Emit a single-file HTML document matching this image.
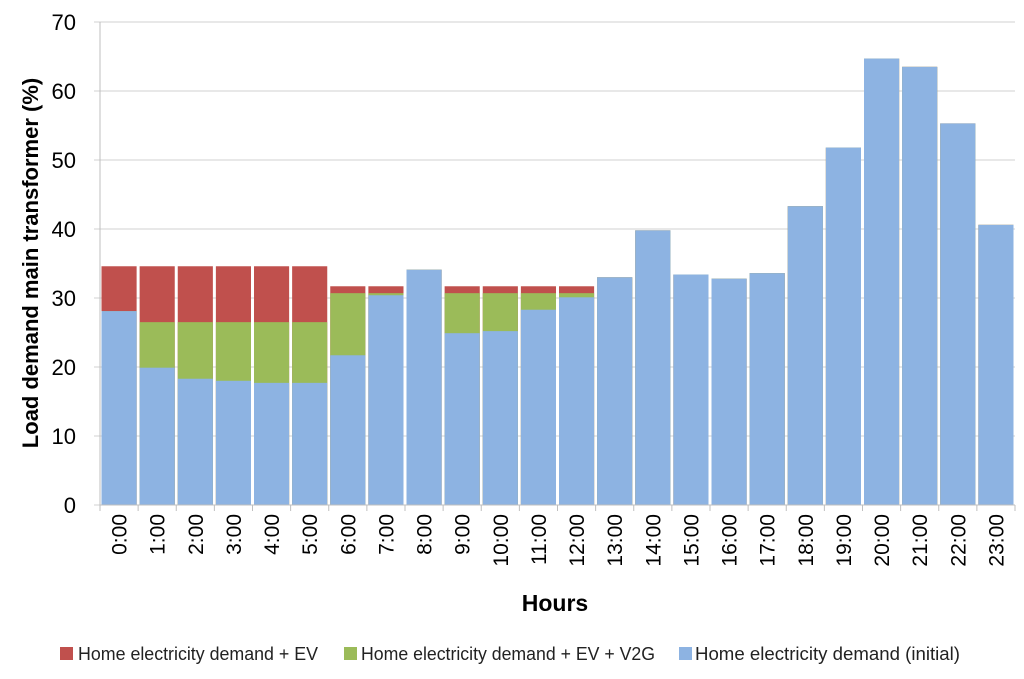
<!DOCTYPE html>
<html><head><meta charset="utf-8"><style>
body{margin:0;background:#fff;font-family:"Liberation Sans",sans-serif}
</style></head><body>
<svg id="c" width="1024" height="674" xmlns="http://www.w3.org/2000/svg"></svg>
<script>
const categories=["0:00","1:00","2:00","3:00","4:00","5:00","6:00","7:00","8:00","9:00","10:00","11:00","12:00","13:00","14:00","15:00","16:00","17:00","18:00","19:00","20:00","21:00","22:00","23:00"];
const blueValues=[28.1,19.9,18.3,18.0,17.7,17.7,21.7,30.4,34.1,24.9,25.2,28.3,30.1,33.0,39.8,33.4,32.8,33.6,43.3,51.8,64.7,63.5,55.3,40.6];
const greenValues=[28.1,26.5,26.5,26.5,26.5,26.5,30.7,30.7,34.1,30.7,30.7,30.7,30.7,33.0,39.8,33.4,32.8,33.6,43.3,51.8,64.7,63.5,55.3,40.6];
const redValues=[34.6,34.6,34.6,34.6,34.6,34.6,31.7,31.7,34.1,31.7,31.7,31.7,31.7,33.0,39.8,33.4,32.8,33.6,43.3,51.8,64.7,63.5,55.3,40.6];
const yTicks=[0,10,20,30,40,50,60,70];
const svg=document.getElementById('c');
const NS="http://www.w3.org/2000/svg";
const X0=100,X1=1015,Y0=505,YMAX=70,PPU=6.9;
const bw=(X1-X0)/categories.length;
const y=v=>Y0-v*PPU;
const x=i=>X0+i*bw;
function mk(t,a,txt){const e=document.createElementNS(NS,t);for(const k in a)e.setAttribute(k,a[k]);if(txt!==undefined)e.textContent=txt;svg.appendChild(e);return e;}
yTicks.forEach(t=>{
 const g=mk('line',{x1:X0-6,x2:X1,y1:y(t),y2:y(t),stroke:'#d0d0d0','stroke-width':1});
 
 
 const l=mk('text',{x:76,y:y(t)+8,'text-anchor':'end','font-size':22,fill:'#000'},t);
 
 
});
[[redValues,'#c0504d','red'],[greenValues,'#9bbb59','green'],[blueValues,'#8db3e2','blue']].forEach(([vals,col,nm])=>{
 vals.forEach((v,i)=>{
  const r=mk('rect',{x:x(i)+1.5,y:y(v),width:bw-3,height:Y0-y(v),fill:col});
  
  
 });
});
const ax=mk('line',{x1:X0,x2:X0,y1:y(YMAX),y2:Y0,stroke:'#bfbfbf'});


const xa=mk('line',{x1:X0,x2:X1,y1:Y0,y2:Y0,stroke:'#bfbfbf'});


for(let i=0;i<=categories.length;i++){mk('line',{x1:x(i),x2:x(i),y1:Y0,y2:Y0+6,stroke:'#bfbfbf'});}
categories.forEach((c,i)=>{
 const cx=x(i)+bw/2+7.5;
 const t=mk('text',{x:cx,y:514,'text-anchor':'end','font-size':21,transform:`rotate(-90 ${cx} 514)`},c);
 
 
});
const yt=mk('text',{x:0,y:0,'text-anchor':'middle','font-size':22,'font-weight':'bold',transform:'translate(38 263) rotate(-90)'},'Load demand main transformer (%)');


const xt=mk('text',{x:555,y:611,'text-anchor':'middle','font-size':23,'font-weight':'bold'},'Hours');


[['#c0504d','Home electricity demand + EV',60,78,240],['#9bbb59','Home electricity demand + EV + V2G',344,361,294],['#8db3e2','Home electricity demand (initial)',679,695,265]].forEach(([c,l,lx,tx,tl],k)=>{
 const r=mk('rect',{x:lx,y:647,width:13,height:13,fill:c});
 
 
 const t=mk('text',{x:tx,y:660,'font-size':18,fill:'#222',textLength:tl,lengthAdjust:'spacingAndGlyphs'},l);
 
 
});
</script>
</body></html>
